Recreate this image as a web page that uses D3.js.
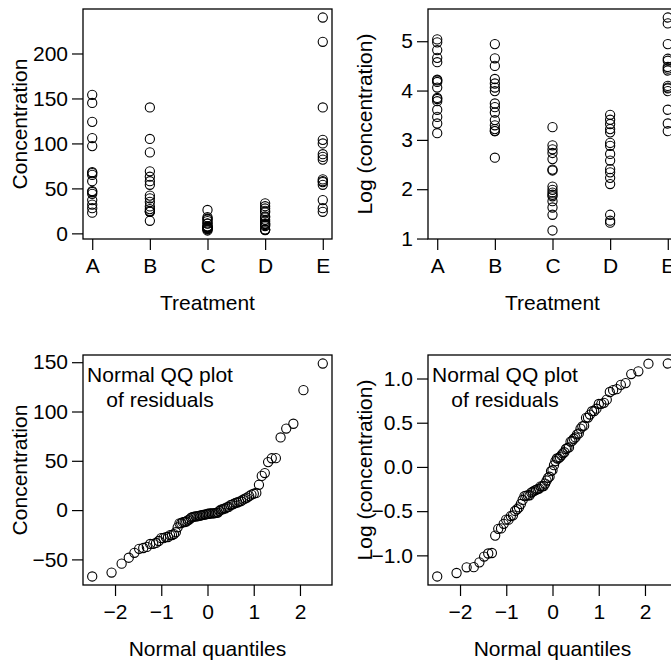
<!DOCTYPE html>
<html>
<head>
<meta charset="utf-8">
<script src="https://cdn.jsdelivr.net/npm/d3@7"></script>
<style>
  body { margin: 0; background: #fff; }
  text { font-family: "Liberation Sans", Arial, sans-serif; font-size: 21px; fill: #000; }
</style>
</head>
<body>
<div id="chart"></div>
<script>
// Data
const treatments = ["A", "B", "C", "D", "E"];
const concA = [154, 145, 124, 106, 97, 68, 67, 65, 58, 47, 46, 44, 37, 32, 28, 23];
const concB = [140, 105, 90, 69, 63, 58, 54, 42, 39, 35, 30, 27, 25, 24, 24, 14];
const concC = [26, 18, 16.6, 15.4, 13.6, 11, 10.8, 7.8, 7.3, 6.9, 6.6, 6.4, 5.8, 5.1, 4.4, 3.2];
const concD = [33.4, 30.2, 27.7, 25, 23.4, 18.9, 17.8, 15.1, 13.2, 11.1, 10.4, 9.3, 8.2, 4.4, 3.9, 3.75];
const concE = [240, 213, 140, 104, 100, 88, 85, 82, 60, 58, 57, 54, 37, 28, 24];
const groups = [concA, concB, concC, concD, concE];

// Set the dimensions of the page and the plot boxes
const W = 671, H = 661;
const boxW = 249, boxH = 230;
const panels = [
  { left: 83, top: 9 },
  { left: 428, top: 9 },
  { left: 83, top: 355 },
  { left: 428, top: 355 }
];

const svg = d3.select("#chart")
  .append("svg")
  .attr("width", W)
  .attr("height", H);

svg.append("rect").attr("width", W).attr("height", H).attr("fill", "#fff");

// R style range: data extent plus 4% each side
function rDomain(vals) {
  const [lo, hi] = d3.extent(vals);
  const pad = 0.04 * (hi - lo);
  return [lo - pad, hi + pad];
}

// inverse normal CDF (Acklam)
function qnorm(p) {
  const a = [-3.969683028665376e+01, 2.209460984245205e+02, -2.759285104469687e+02, 1.383577518672690e+02, -3.066479806614716e+01, 2.506628277459239e+00];
  const b = [-5.447609879822406e+01, 1.615858368580409e+02, -1.556989798598866e+02, 6.680131188771972e+01, -1.328068155288572e+01];
  const c = [-7.784894002430293e-03, -3.223964580411365e-01, -2.400758277161838e+00, -2.549732539343734e+00, 4.374664141464968e+00, 2.938163982698783e+00];
  const d = [7.784695709041462e-03, 3.224671290700398e-01, 2.445134137142996e+00, 3.754408661907416e+00];
  const plow = 0.02425;
  if (p < plow || p > 1 - plow) {
    const q = Math.sqrt(-2 * Math.log(p < plow ? p : 1 - p));
    const v = (((((c[0] * q + c[1]) * q + c[2]) * q + c[3]) * q + c[4]) * q + c[5]) /
      ((((d[0] * q + d[1]) * q + d[2]) * q + d[3]) * q + 1);
    return p < plow ? v : -v;
  }
  const q = p - 0.5, r = q * q;
  return (((((a[0] * r + a[1]) * r + a[2]) * r + a[3]) * r + a[4]) * r + a[5]) * q /
    (((((b[0] * r + b[1]) * r + b[2]) * r + b[3]) * r + b[4]) * r + 1);
}

// residuals from group means, paired with normal quantiles (like qqnorm)
function qqData(gs) {
  const res = [];
  gs.forEach((g) => {
    const m = d3.mean(g);
    g.forEach((v) => res.push(v - m));
  });
  res.sort((a, b) => a - b);
  const n = res.length;
  return res.map((r, i) => ({ x: qnorm((i + 1 - 0.5) / n), y: r }));
}

const fmtNum = d3.format("d");
const fmtDec = d3.format(".1f");

function drawPanel(p, xScale, yScale, points, xFormat, yFormat, xTicks, xTitle, yTitle) {
  const g = svg.append("g")
    .attr("transform", `translate(${p.left},${p.top})`);

  // y axis
  const yAxis = d3.axisLeft(yScale)
    .ticks(5)
    .tickFormat(yFormat)
    .tickSizeOuter(0)
    .tickSize(11)
    .tickPadding(4);
  const ya = g.append("g").call(yAxis);
  ya.select(".domain").remove();

  // x axis
  const xAxis = d3.axisBottom(xScale)
    .tickSizeOuter(0)
    .tickSize(11)
    .tickPadding(8);
  if (xTicks) xAxis.tickValues(xTicks);
  if (xFormat) xAxis.tickFormat(xFormat);
  const xa = g.append("g").attr("transform", `translate(0,${boxH})`).call(xAxis);
  xa.select(".domain").remove();

  g.selectAll(".tick line").attr("stroke", "#000").attr("stroke-width", 1.2);
  g.selectAll(".tick text")
    .style("font-family", '"Liberation Sans", Arial, sans-serif')
    .style("font-size", "21px")
    .attr("fill", "#000");

  // points
  g.append("g")
    .selectAll("circle")
    .data(points)
    .enter()
    .append("circle")
    .attr("cx", (d) => xScale(d.x))
    .attr("cy", (d) => yScale(d.y))
    .attr("r", 4.6)
    .attr("fill", "none")
    .attr("stroke", "#000")
    .attr("stroke-width", 1.1);

  // box
  g.append("rect")
    .attr("width", boxW)
    .attr("height", boxH)
    .attr("fill", "none")
    .attr("stroke", "#000")
    .attr("stroke-width", 1.3);

  // axis titles
  g.append("text")
    .attr("x", boxW / 2)
    .attr("y", boxH + 71)
    .attr("text-anchor", "middle")
    .text(xTitle);

  g.append("text")
    .attr("transform", `translate(-56,${boxH / 2}) rotate(-90)`)
    .attr("text-anchor", "middle")
    .text(yTitle);

  return g;
}

// Top row: strip plots by treatment
const stripPts = [];
groups.forEach((g, i) => g.forEach((v) => stripPts.push({ x: treatments[i], y: v })));
const logPts = stripPts.map((d) => ({ x: d.x, y: Math.log(d.y) }));

const xCat = d3.scalePoint().domain(treatments).range([0, boxW]).padding(0.16);

const y1 = d3.scaleLinear().domain(rDomain(stripPts.map((d) => d.y))).range([boxH, 0]);
drawPanel(panels[0], xCat, y1, stripPts, null, fmtNum, null, "Treatment", "Concentration");

const y2 = d3.scaleLinear().domain(rDomain(logPts.map((d) => d.y))).range([boxH, 0]);
drawPanel(panels[1], xCat, y2, logPts, null, fmtNum, null, "Treatment", "Log (concentration)");

// Bottom row: normal QQ plots of residuals
const qq1 = qqData(groups);
const qq2 = qqData(groups.map((g) => g.map((v) => Math.log(v))));

function addNote(g) {
  g.append("text").attr("x", 77).attr("y", 27).attr("text-anchor", "middle").text("Normal QQ plot");
  g.append("text").attr("x", 77).attr("y", 52).attr("text-anchor", "middle").text("of residuals");
}

const xq1 = d3.scaleLinear().domain(rDomain(qq1.map((d) => d.x))).range([0, boxW]);
const yq1 = d3.scaleLinear().domain(rDomain(qq1.map((d) => d.y))).range([boxH, 0]);
addNote(drawPanel(panels[2], xq1, yq1, qq1, fmtNum, fmtNum, [-2, -1, 0, 1, 2], "Normal quantiles", "Concentration"));

const xq2 = d3.scaleLinear().domain(rDomain(qq2.map((d) => d.x))).range([0, boxW]);
const yq2 = d3.scaleLinear().domain(rDomain(qq2.map((d) => d.y))).range([boxH, 0]);
addNote(drawPanel(panels[3], xq2, yq2, qq2, fmtNum, fmtDec, [-2, -1, 0, 1, 2], "Normal quantiles", "Log (concentration)"));
</script>
</body>
</html>
